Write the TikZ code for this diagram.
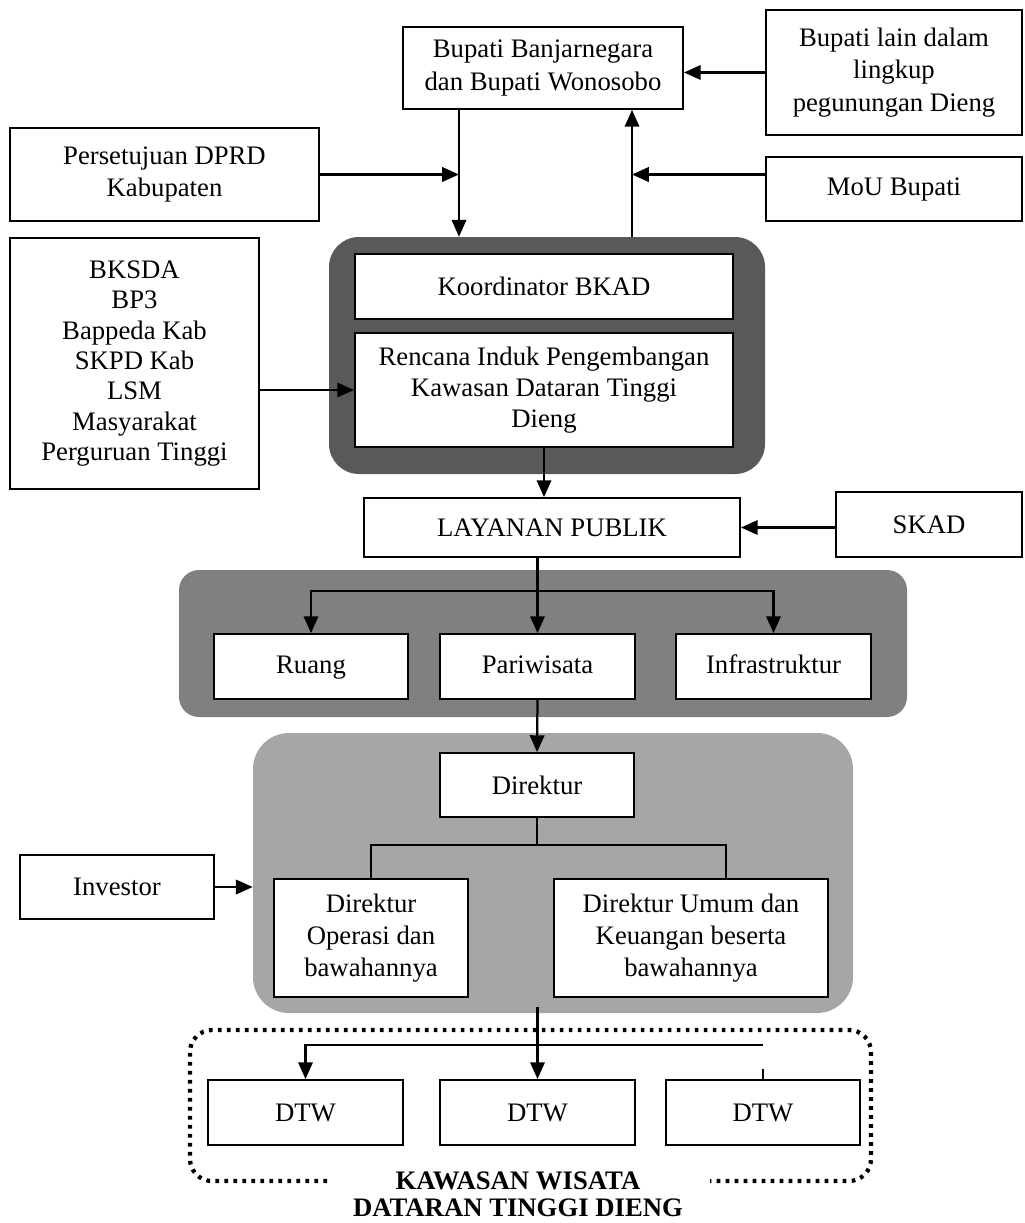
\documentclass[tikz,border=0pt]{standalone}
\usepackage{fontspec}
\setmainfont{Liberation Serif}
\usetikzlibrary{calc, positioning, arrows.meta}

\definecolor{regiondark}{HTML}{595959}
\definecolor{regionmid}{HTML}{808080}
\definecolor{regionlight}{HTML}{A6A6A6}

\begin{document}
\begin{tikzpicture}[
    font=\fontsize{19}{23}\selectfont,
    info_box/.style={draw, line width=1.3pt, fill=white, align=center, inner sep=2pt},
    one_line/.style={text height=13.5pt, text depth=4pt},
    region/.style={draw=none, rounded corners=#1, inner sep=0pt},
    arrow_line/.style={line width=1.6pt, -{Triangle[length=0.42cm, width=0.36cm]}},
    plain_line/.style={line width=1.6pt},
    org_line/.style={line width=1.1pt},
    dot_border/.style={line width=3pt, dash pattern=on 2.6pt off 3.8pt, rounded corners=0.55cm},
    title_text/.style={align=center, font=\bfseries\fontsize{19}{19.5}\selectfont}
]
    \useasboundingbox (0,0) rectangle (25.6,-30.575);

    % Background regions
    \node[region=0.75cm, fill=regiondark, minimum width=10.9cm, minimum height=5.925cm] (dark) at (13.675,-8.8875) {};
    \node[region=0.5cm, fill=regionmid, minimum width=18.2cm, minimum height=3.675cm] (mid) at (13.575,-16.0875) {};
    \node[region=0.9cm, fill=regionlight, minimum width=15cm, minimum height=7cm] (light) at (13.825,-21.825) {};

    % Dotted area (open at the bottom for its title)
    \draw[dot_border] (8.175,-29.525) -| (4.75,-25.75) -| (21.775,-29.525) -- (17.75,-29.525);
    \node[title_text] (kawasan) at (12.95,-29.85) {KAWASAN WISATA\\DATARAN TINGGI DIENG};

    % Nodes
    \node[info_box, minimum width=7cm, minimum height=2.05cm] (bupati) at (13.575,-1.7) {Bupati Banjarnegara\\dan Bupati Wonosobo};
    \node[info_box, minimum width=6.4cm, minimum height=3.125cm] (lain) at (22.35,-1.8125) {Bupati lain dalam\\lingkup\\pegunungan Dieng};
    \node[info_box, minimum width=7.725cm, minimum height=2.325cm] (dprd) at (4.1125,-4.3625) {Persetujuan DPRD\\Kabupaten};
    \node[info_box, minimum width=6.4cm, minimum height=1.6cm] (mou) at (22.35,-4.725) {MoU Bupati};
    \node[info_box, minimum width=6.225cm, minimum height=6.275cm, font=\fontsize{19}{21.6}\selectfont] (bksda) at (3.3625,-9.0875) {BKSDA\\BP3\\Bappeda Kab\\SKPD Kab\\LSM\\Masyarakat\\Perguruan Tinggi};
    \node[info_box, minimum width=9.45cm, minimum height=1.625cm] (koord) at (13.6,-7.1625) {Koordinator BKAD};
    \node[info_box, minimum width=9.45cm, minimum height=2.85cm, font=\fontsize{19}{22}\selectfont] (rencana) at (13.6,-9.75) {Rencana Induk Pengembangan\\Kawasan Dataran Tinggi\\Dieng};
    \node[info_box, minimum width=9.4cm, minimum height=1.475cm] (layanan) at (13.8,-13.1875) {LAYANAN PUBLIK};
    \node[info_box, minimum width=4.65cm, minimum height=1.625cm] (skad) at (23.225,-13.1125) {SKAD};
    \node[info_box, one_line, minimum width=4.85cm, minimum height=1.625cm] (ruang) at (7.775,-16.6625) {Ruang};
    \node[info_box, one_line, minimum width=4.875cm, minimum height=1.625cm] (pariwisata) at (13.4375,-16.6625) {Pariwisata};
    \node[info_box, one_line, minimum width=4.875cm, minimum height=1.625cm] (infra) at (19.3375,-16.6625) {Infrastruktur};
    \node[info_box, minimum width=4.85cm, minimum height=1.6cm] (direktur) at (13.425,-19.625) {Direktur};
    \node[info_box, minimum width=4.85cm, minimum height=1.6cm] (investor) at (2.925,-22.175) {Investor};
    \node[info_box, minimum width=4.85cm, minimum height=2.95cm] (operasi) at (9.275,-23.45) {Direktur\\Operasi dan\\bawahannya};
    \node[info_box, minimum width=6.85cm, minimum height=2.95cm] (umum) at (17.275,-23.45) {Direktur Umum dan\\Keuangan beserta\\bawahannya};
    \node[info_box, minimum width=4.875cm, minimum height=1.625cm] (dtw1) at (7.6375,-27.8125) {DTW};
    \node[info_box, minimum width=4.875cm, minimum height=1.625cm] (dtw2) at (13.4375,-27.8125) {DTW};
    \node[info_box, minimum width=4.85cm, minimum height=1.625cm] (dtw3) at (19.075,-27.8125) {DTW};

    % Helper points
    \coordinate (dn) at ([xshift=-2.1cm]bupati.south);
    \coordinate (up) at ([xshift=2.225cm]bupati.south);
    \coordinate (br) at (13.4375,-14.775);
    \coordinate (org) at (13.425,-21.125);
    \coordinate (hl) at (0,-26.125);

    % Arrows
    \draw[arrow_line] (dn) -- (dn |- dark.north);
    \draw[arrow_line] (up |- dark.north) -- (up);
    \draw[arrow_line] (dprd.east) -- (dprd.east -| dn);
    \draw[arrow_line] (mou.west |- dprd.east) -- (dprd.east -| up);
    \draw[arrow_line] (lain.west) -- (lain.west -| bupati.east);
    \draw[arrow_line] (rencana.west -| bksda.east) -- (rencana.west);
    \draw[arrow_line] (rencana.south) -- (rencana.south |- layanan.north);
    \draw[arrow_line] (skad.west |- layanan.east) -- (layanan.east);

    % Layanan publik to the three fields
    \draw[arrow_line] (pariwisata.north |- layanan.south) -- (pariwisata.north);
    \draw[arrow_line] (br) -| (ruang.north);
    \draw[arrow_line] (br) -| (infra.north);
    \draw[arrow_line] (pariwisata.south) -- (direktur.north);

    % Direktur and the two directorates
    \draw[org_line] (direktur.south) -- (org);
    \draw[org_line] (operasi.north) |- (org) -| ([xshift=0.875cm]umum.north);
    \draw[arrow_line] (investor.east) -- (investor.east -| light.west);

    % Down to the DTW
    \draw[arrow_line] ([yshift=0.15cm]light.south -| dtw2.north) -- (dtw2.north);
    \draw[arrow_line] (hl -| dtw3.north) -| (dtw1.north);
    \draw[plain_line] (dtw3.north) -- ++(0,0.25);

\end{tikzpicture}
\end{document}
